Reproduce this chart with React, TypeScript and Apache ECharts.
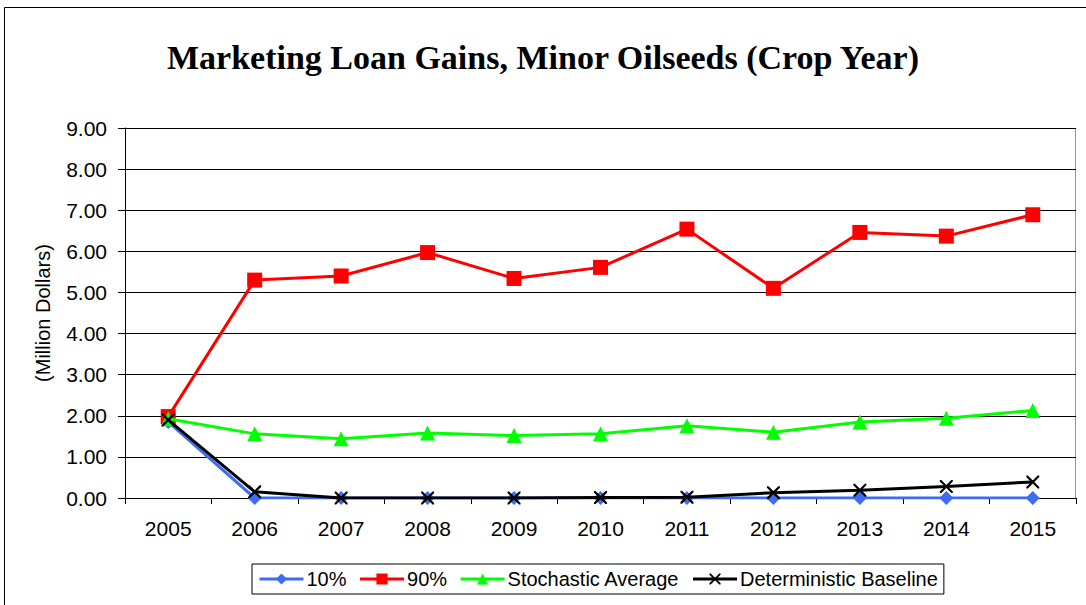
import React, { useEffect, useRef } from "react";
import * as echarts from "echarts";

const years = ["2005", "2006", "2007", "2008", "2009", "2010", "2011", "2012", "2013", "2014", "2015"];
const p10 = [1.85, 0, 0, 0, 0, 0, 0, 0, 0, 0, 0];
const p90 = [1.98, 5.3, 5.4, 5.97, 5.34, 5.61, 6.54, 5.1, 6.46, 6.37, 6.89];
const stochAvg = [1.93, 1.56, 1.44, 1.58, 1.52, 1.56, 1.76, 1.6, 1.85, 1.94, 2.13];
const detBase = [1.9, 0.15, 0, 0, 0, 0.01, 0.02, 0.13, 0.19, 0.28, 0.39];
const seriesNames = ["10%", "90%", "Stochastic Average", "Deterministic Baseline"];

const xSymbol =
  "path://M0,0L1.2,0L5,3.8L8.8,0L10,0L10,1.2L6.2,5L10,8.8L10,10L8.8,10L5,6.2L1.2,10L0,10L0,8.8L3.8,5L0,1.2Z";

const FONT = "'Liberation Sans', Arial, sans-serif";

export default function App() {
  const ref = useRef<HTMLDivElement>(null);
  useEffect(() => {
    const chart = echarts.init(ref.current!, null, { renderer: "svg" });
    chart.setOption({
      animation: false,
      backgroundColor: "#ffffff",
      title: {
        text: "Marketing Loan Gains, Minor Oilseeds (Crop Year)",
        left: "center",
        top: 35,
        textStyle: { fontFamily: "'Liberation Serif', 'Times New Roman', serif", fontWeight: "bold", fontSize: 34, color: "#000" },
      },
      graphic: [
        {
          type: "rect",
          shape: { x: 4.5, y: 7.5, width: 1100, height: 620 },
          style: { fill: "none", stroke: "#000", lineWidth: 1 },
          silent: true,
        },
        {
          type: "line",
          shape: { x1: 1075.5, y1: 128, x2: 1075.5, y2: 498 },
          style: { stroke: "#999", lineWidth: 1 },
          silent: true,
        },
      ],
      grid: { left: 125, top: 128, right: 10, bottom: 107 },
      legend: {
        data: seriesNames,
        left: 252,
        top: 564,
        borderColor: "#000",
        borderWidth: 1,
        padding: [5, 6, 5, 6],
        itemGap: 12,
        itemWidth: 44,
        itemHeight: 14,
        lineStyle: { width: 3 },
        textStyle: { fontFamily: FONT, fontSize: 20, color: "#000", padding: [0, 0, 0, -2] },
      },
      xAxis: {
        type: "category",
        data: years,
        boundaryGap: true,
        axisLine: { lineStyle: { color: "#000", width: 1 } },
        axisTick: { show: true, length: 6, lineStyle: { color: "#000" } },
        axisLabel: { fontFamily: FONT, fontSize: 21, color: "#000", margin: 20 },
        splitLine: { show: false },
      },
      yAxis: {
        type: "value",
        min: 0,
        max: 9,
        interval: 1,
        name: "(Million Dollars)",
        nameLocation: "middle",
        nameGap: 72,
        nameTextStyle: { fontFamily: FONT, fontSize: 20, color: "#000" },
        axisLine: { show: true, lineStyle: { color: "#000", width: 1 } },
        axisTick: { show: true, length: 7, lineStyle: { color: "#000" } },
        axisLabel: {
          fontFamily: FONT,
          fontSize: 21,
          color: "#000",
          margin: 18,
          formatter: (v: number) => v.toFixed(2),
        },
        splitLine: { show: true, lineStyle: { color: "#000", width: 1 } },
      },
      series: [
        {
          name: seriesNames[0],
          type: "line",
          data: p10,
          symbol: "diamond",
          symbolSize: 14,
          lineStyle: { color: "#3d6cf5", width: 3 },
          itemStyle: { color: "#3d6cf5" },
          z: 2,
        },
        {
          name: seriesNames[1],
          type: "line",
          data: p90,
          symbol: "rect",
          symbolSize: 15,
          lineStyle: { color: "#ff0000", width: 3 },
          itemStyle: { color: "#ff0000" },
          z: 3,
        },
        {
          name: seriesNames[2],
          type: "line",
          data: stochAvg,
          symbol: "triangle",
          symbolSize: 15,
          lineStyle: { color: "#00ff00", width: 3 },
          itemStyle: { color: "#00ff00" },
          z: 4,
        },
        {
          name: seriesNames[3],
          type: "line",
          data: detBase,
          symbol: xSymbol,
          symbolSize: 13,
          lineStyle: { color: "#000000", width: 3 },
          itemStyle: { color: "#000000" },
          z: 5,
        },
      ],
    });
    return () => chart.dispose();
  }, []);
  return (
    <div
      ref={ref}
      style={{ position: "fixed", left: 0, top: 0, width: 1086, height: 605 }}
    />
  );
}
